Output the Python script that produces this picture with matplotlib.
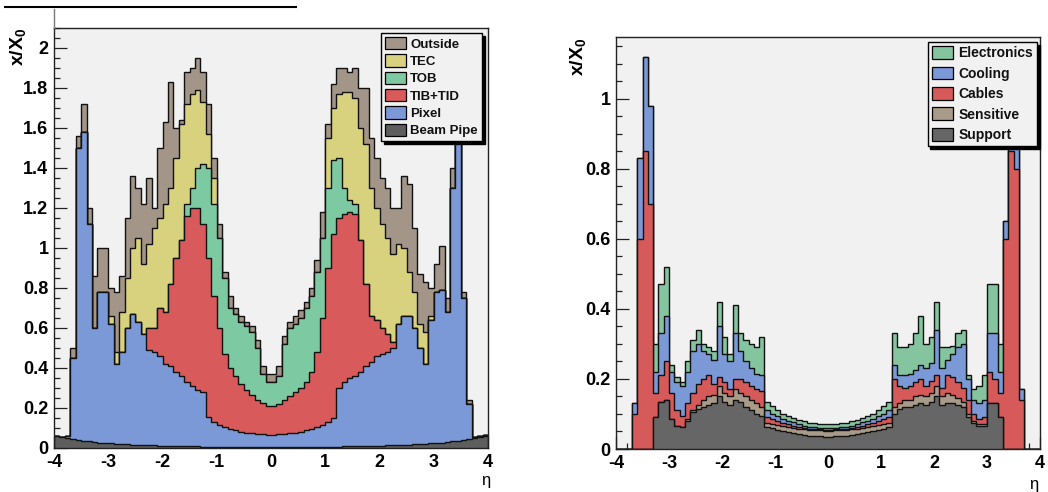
import numpy as np
import matplotlib
matplotlib.use('Agg')
import matplotlib.pyplot as plt
from matplotlib.patches import Patch
from matplotlib.lines import Line2D
from matplotlib.ticker import MultipleLocator, FuncFormatter

plt.rcParams['font.family'] = ['Liberation Sans', 'DejaVu Sans']
plt.rcParams['font.weight'] = 'bold'
plt.rcParams['mathtext.fontset'] = 'custom'
plt.rcParams['mathtext.rm'] = 'Liberation Sans'
plt.rcParams['mathtext.bf'] = 'Liberation Sans:bold'

# 80 bins of width 0.1 in eta, from -4 to 4
eta_edges = np.linspace(-4.0, 4.0, 81)

# ---- left panel: material budget per sub-detector (stacked tops, x/X0) ----
beam_pipe_top = [
    0.062, 0.056, 0.050, 0.045, 0.040, 0.036, 0.033, 0.030, 0.027, 0.025,
    0.023, 0.021, 0.019, 0.018, 0.017, 0.016, 0.015, 0.014, 0.013, 0.012,
    0.011, 0.010, 0.010, 0.009, 0.009, 0.008, 0.008, 0.007, 0.007, 0.006,
    0.006, 0.006, 0.005, 0.005, 0.005, 0.005, 0.005, 0.005, 0.005, 0.005,
    0.005, 0.005, 0.005, 0.005, 0.005, 0.005, 0.005, 0.005, 0.006, 0.006,
    0.006, 0.007, 0.007, 0.008, 0.008, 0.009, 0.009, 0.010, 0.010, 0.011,
    0.012, 0.013, 0.014, 0.015, 0.016, 0.017, 0.018, 0.019, 0.021, 0.023,
    0.025, 0.027, 0.030, 0.033, 0.036, 0.040, 0.045, 0.050, 0.056, 0.062]
pixel_top = [
    0.062, 0.056, 0.060, 0.45, 1.50, 1.58, 1.12, 0.60, 0.78, 0.78,
    0.62, 0.42, 0.48, 0.60, 0.67, 0.63, 0.57, 0.49, 0.48, 0.46,
    0.42, 0.41, 0.38, 0.36, 0.33, 0.31, 0.29, 0.28, 0.155, 0.13,
    0.115, 0.105, 0.096, 0.088, 0.082, 0.077, 0.073, 0.070, 0.068, 0.066,
    0.066, 0.068, 0.070, 0.073, 0.077, 0.082, 0.088, 0.096, 0.105, 0.115,
    0.13, 0.15, 0.30, 0.33, 0.35, 0.36, 0.38, 0.41, 0.43, 0.46,
    0.47, 0.48, 0.50, 0.62, 0.66, 0.66, 0.60, 0.50, 0.42, 0.64,
    0.78, 0.79, 0.68, 1.30, 1.58, 0.75, 0.22, 0.056, 0.058, 0.064]
tib_tid_top = [
    0.062, 0.056, 0.060, 0.45, 1.50, 1.58, 1.12, 0.60, 0.78, 0.78,
    0.62, 0.42, 0.48, 0.60, 0.67, 0.63, 0.57, 0.60, 0.60, 0.70,
    0.68, 0.82, 0.95, 1.04, 1.16, 1.20, 1.20, 1.12, 0.95, 0.76,
    0.60, 0.47, 0.40, 0.36, 0.32, 0.29, 0.265, 0.24, 0.225, 0.21,
    0.21, 0.22, 0.24, 0.26, 0.28, 0.30, 0.33, 0.38, 0.48, 0.65,
    0.90, 1.07, 1.15, 1.17, 1.18, 1.17, 1.04, 0.82, 0.66, 0.64,
    0.60, 0.57, 0.53, 0.62, 0.66, 0.66, 0.60, 0.50, 0.42, 0.64,
    0.78, 0.79, 0.68, 1.30, 1.58, 0.75, 0.22, 0.056, 0.058, 0.064]
tob_top = [
    0.062, 0.056, 0.060, 0.45, 1.50, 1.58, 1.12, 0.60, 0.78, 0.78,
    0.62, 0.42, 0.48, 0.60, 0.67, 0.63, 0.57, 0.60, 0.60, 0.70,
    0.68, 0.82, 0.95, 1.04, 1.22, 1.30, 1.40, 1.42, 1.40, 1.22,
    1.05, 0.85, 0.70, 0.67, 0.63, 0.61, 0.58, 0.50, 0.37, 0.33,
    0.33, 0.36, 0.52, 0.60, 0.62, 0.65, 0.70, 0.76, 0.88, 1.05,
    1.30, 1.44, 1.45, 1.30, 1.24, 1.22, 1.04, 0.82, 0.66, 0.64,
    0.60, 0.57, 0.53, 0.62, 0.66, 0.66, 0.60, 0.50, 0.42, 0.64,
    0.78, 0.79, 0.68, 1.30, 1.58, 0.75, 0.22, 0.056, 0.058, 0.064]
tec_top = [
    0.062, 0.056, 0.060, 0.45, 1.50, 1.58, 1.12, 0.60, 0.78, 0.78,
    0.66, 0.48, 0.68, 0.85, 1.00, 1.05, 0.92, 1.02, 1.10, 1.15,
    1.22, 1.30, 1.45, 1.62, 1.72, 1.77, 1.79, 1.73, 1.57, 1.35,
    1.05, 0.85, 0.70, 0.67, 0.63, 0.61, 0.58, 0.50, 0.37, 0.33,
    0.33, 0.36, 0.52, 0.60, 0.62, 0.65, 0.70, 0.76, 0.88, 1.05,
    1.55, 1.70, 1.77, 1.78, 1.78, 1.75, 1.60, 1.52, 1.30, 1.20,
    1.12, 1.05, 0.97, 1.02, 1.00, 0.88, 0.78, 0.62, 0.58, 0.66,
    0.78, 0.79, 0.68, 1.30, 1.58, 0.75, 0.22, 0.056, 0.058, 0.064]
outside_top = [
    0.062, 0.056, 0.060, 0.50, 1.56, 1.72, 1.20, 0.86, 1.00, 1.00,
    0.80, 0.78, 0.86, 1.15, 1.36, 1.30, 1.22, 1.35, 1.20, 1.50,
    1.63, 1.83, 1.60, 1.64, 1.88, 1.90, 1.95, 1.88, 1.72, 1.45,
    1.12, 0.88, 0.76, 0.70, 0.66, 0.63, 0.61, 0.54, 0.41, 0.37,
    0.37, 0.41, 0.56, 0.63, 0.66, 0.69, 0.73, 0.80, 0.94, 1.18,
    1.62, 1.82, 1.90, 1.90, 1.88, 1.90, 1.80, 1.80, 1.55, 1.45,
    1.35, 1.30, 1.20, 1.20, 1.36, 1.32, 1.10, 0.87, 0.83, 0.80,
    0.92, 1.01, 0.75, 1.40, 1.68, 0.78, 0.24, 0.056, 0.058, 0.064]

left_labels = ['Beam Pipe', 'Pixel', 'TIB+TID', 'TOB', 'TEC', 'Outside']
left_tops = [beam_pipe_top, pixel_top, tib_tid_top, tob_top, tec_top, outside_top]
left_colors = ['#5e5e5e', '#7b99d7', '#d85a5a', '#7dcaa2', '#d8d27f', '#a39587']

# ---- right panel: material budget per category (stacked tops, x/X0) ----
support_top = [
    0, 0, 0, 0, 0, 0, 0, 0.09, 0.135, 0.14,
    0.085, 0.067, 0.062, 0.08, 0.105, 0.115, 0.12, 0.125, 0.13, 0.15,
    0.135, 0.125, 0.14, 0.135, 0.12, 0.11, 0.10, 0.095, 0.063, 0.06,
    0.055, 0.052, 0.048, 0.045, 0.043, 0.04, 0.038, 0.037, 0.036, 0.035,
    0.035, 0.036, 0.037, 0.038, 0.04, 0.043, 0.045, 0.048, 0.052, 0.055,
    0.058, 0.062, 0.10, 0.115, 0.12, 0.12, 0.125, 0.13, 0.125, 0.135,
    0.15, 0.125, 0.13, 0.13, 0.125, 0.12, 0.09, 0.075, 0.065, 0.065,
    0.13, 0.13, 0.09, 0, 0, 0, 0, 0, 0, 0]
sensitive_top = [
    0, 0, 0, 0, 0, 0, 0, 0.09, 0.135, 0.14,
    0.085, 0.067, 0.062, 0.085, 0.11, 0.125, 0.14, 0.15, 0.155, 0.18,
    0.16, 0.15, 0.17, 0.16, 0.15, 0.14, 0.13, 0.12, 0.073, 0.07,
    0.068, 0.066, 0.063, 0.06, 0.058, 0.056, 0.055, 0.054, 0.053, 0.052,
    0.052, 0.053, 0.054, 0.055, 0.056, 0.058, 0.06, 0.063, 0.066, 0.068,
    0.07, 0.073, 0.12, 0.13, 0.14, 0.14, 0.15, 0.155, 0.15, 0.16,
    0.18, 0.15, 0.16, 0.155, 0.145, 0.135, 0.10, 0.08, 0.07, 0.07,
    0.13, 0.13, 0.09, 0, 0, 0, 0, 0, 0, 0]
cables_top = [
    0, 0, 0, 0.10, 0.60, 0.85, 0.70, 0.16, 0.21, 0.25,
    0.16, 0.11, 0.095, 0.13, 0.16, 0.185, 0.20, 0.21, 0.185, 0.205,
    0.19, 0.17, 0.20, 0.20, 0.19, 0.18, 0.17, 0.165, 0.09, 0.085,
    0.08, 0.075, 0.07, 0.066, 0.063, 0.06, 0.058, 0.057, 0.056, 0.055,
    0.055, 0.056, 0.057, 0.058, 0.06, 0.063, 0.066, 0.07, 0.075, 0.08,
    0.085, 0.092, 0.20, 0.18, 0.175, 0.18, 0.19, 0.20, 0.18, 0.195,
    0.21, 0.175, 0.21, 0.205, 0.19, 0.175, 0.14, 0.10, 0.085, 0.09,
    0.22, 0.20, 0.16, 0.60, 0.85, 0.80, 0.14, 0, 0, 0]
cooling_top = [
    0, 0, 0, 0.13, 0.83, 1.12, 0.98, 0.22, 0.33, 0.38,
    0.22, 0.19, 0.18, 0.22, 0.28, 0.30, 0.28, 0.27, 0.255, 0.35,
    0.27, 0.25, 0.33, 0.28, 0.25, 0.23, 0.215, 0.21, 0.112, 0.10,
    0.093, 0.087, 0.081, 0.076, 0.071, 0.067, 0.064, 0.062, 0.061, 0.06,
    0.06, 0.061, 0.062, 0.064, 0.067, 0.071, 0.076, 0.081, 0.087, 0.093,
    0.10, 0.112, 0.24, 0.21, 0.21, 0.215, 0.225, 0.24, 0.23, 0.245,
    0.34, 0.23, 0.255, 0.27, 0.29, 0.30, 0.20, 0.14, 0.13, 0.14,
    0.33, 0.33, 0.22, 0.65, 1.08, 0.95, 0.17, 0, 0, 0]
electronics_top = [
    0, 0, 0, 0.13, 0.83, 1.12, 0.98, 0.30, 0.47, 0.52,
    0.24, 0.205, 0.19, 0.25, 0.31, 0.34, 0.30, 0.29, 0.28, 0.42,
    0.32, 0.27, 0.41, 0.33, 0.31, 0.30, 0.29, 0.32, 0.135, 0.122,
    0.11, 0.10, 0.094, 0.088, 0.083, 0.079, 0.075, 0.073, 0.071, 0.07,
    0.07, 0.071, 0.073, 0.075, 0.079, 0.083, 0.088, 0.094, 0.10, 0.11,
    0.122, 0.135, 0.33, 0.29, 0.29, 0.30, 0.33, 0.38, 0.30, 0.32,
    0.42, 0.29, 0.29, 0.295, 0.33, 0.34, 0.21, 0.17, 0.18, 0.21,
    0.47, 0.47, 0.30, 0.65, 1.08, 0.95, 0.17, 0, 0, 0]

right_labels = ['Support', 'Sensitive', 'Cables', 'Cooling', 'Electronics']
right_tops = [support_top, sensitive_top, cables_top, cooling_top, electronics_top]
right_colors = ['#666666', '#a89b89', '#d65a5a', '#7b99d6', '#84c5a0']

BG = '#f1f1f1'


def draw_panel(ax, tops, colors, labels, ymax, leg_anchor, leg_size, leg_spacing, tick_size):
    ax.set_facecolor(BG)
    ax.set_axisbelow(True)
    # ROOT-style stack: draw the total first, then each lower layer on top of it
    for top, col in zip(tops[::-1], colors[::-1]):
        ax.stairs(top, eta_edges, baseline=0, fill=True, facecolor=col,
                  edgecolor='#111111', linewidth=1.0)
    ax.set_xlim(-4, 4)
    ax.set_ylim(0, ymax)
    ax.xaxis.set_major_locator(MultipleLocator(1))
    ax.xaxis.set_minor_locator(MultipleLocator(0.2))
    ax.yaxis.set_major_locator(MultipleLocator(0.2))
    ax.yaxis.set_minor_locator(MultipleLocator(0.05))
    fmt = FuncFormatter(lambda v, p: '%g' % round(v, 2))
    ax.xaxis.set_major_formatter(fmt)
    ax.yaxis.set_major_formatter(fmt)
    ax.tick_params(which='both', direction='in', top=False, right=False,
                   color='#222222', width=0.9)
    ax.tick_params(which='major', length=9, labelsize=tick_size, pad=4)
    ax.tick_params(which='minor', length=4.5)
    for sp in ax.spines.values():
        sp.set_linewidth(1.0)
        sp.set_color('#222222')

    handles = [Patch(facecolor=c, edgecolor='black', linewidth=0.9)
               for c in colors[::-1]]
    leg = ax.legend(handles, labels[::-1], loc='upper right',
                    bbox_to_anchor=leg_anchor, borderaxespad=0,
                    prop={'weight': 'bold', 'size': leg_size},
                    handlelength=1.55, handleheight=1.05, handletextpad=0.35,
                    labelspacing=leg_spacing, borderpad=0.3,
                    fancybox=False, edgecolor='black', facecolor=BG,
                    framealpha=1, shadow={'color': 'black', 'alpha': 1})
    leg.get_frame().set_linewidth(1.0)
    for t in leg.get_texts():
        t.set_color('#111111')


fig = plt.figure(figsize=(10.48, 4.92), dpi=100)

ax1 = fig.add_axes([54 / 1048, 44 / 492, 434 / 1048, 420 / 492])
draw_panel(ax1, left_tops, left_colors, left_labels, 2.1,
           (0.986, 0.988), 9.5, 0.28, 13)
ax1.text(-0.06, 1.0, r'$\mathbf{x/X_0}$', transform=ax1.transAxes,
         rotation=90, ha='right', va='top', fontsize=14)
ax1.text(1.006, -0.078, 'η', transform=ax1.transAxes,
         ha='right', va='center', fontsize=12, fontweight='normal')

ax2 = fig.add_axes([616 / 1048, 43 / 492, 424 / 1048, 412 / 492])
draw_panel(ax2, right_tops, right_colors, right_labels, 1.177,
           (0.993, 0.988), 10, 0.45, 13)
ax2.text(-0.066, 0.998, r'$\mathbf{x/X_0}$', transform=ax2.transAxes,
         rotation=90, ha='right', va='top', fontsize=14)
ax2.text(0.997, -0.085, 'η', transform=ax2.transAxes,
         ha='right', va='center', fontsize=12, fontweight='normal')

# leftover frame lines at the top-left of the original page
fig.add_artist(Line2D([5 / 1048, 296 / 1048], [1 - 7 / 492, 1 - 7 / 492],
                      color='black', linewidth=1.5, transform=fig.transFigure))
fig.add_artist(Line2D([54 / 1048, 54 / 1048], [1 - 9 / 492, 1 - 28 / 492],
                      color='#777777', linewidth=1.0, transform=fig.transFigure))

fig.savefig('out.png', dpi=100, facecolor='white')
